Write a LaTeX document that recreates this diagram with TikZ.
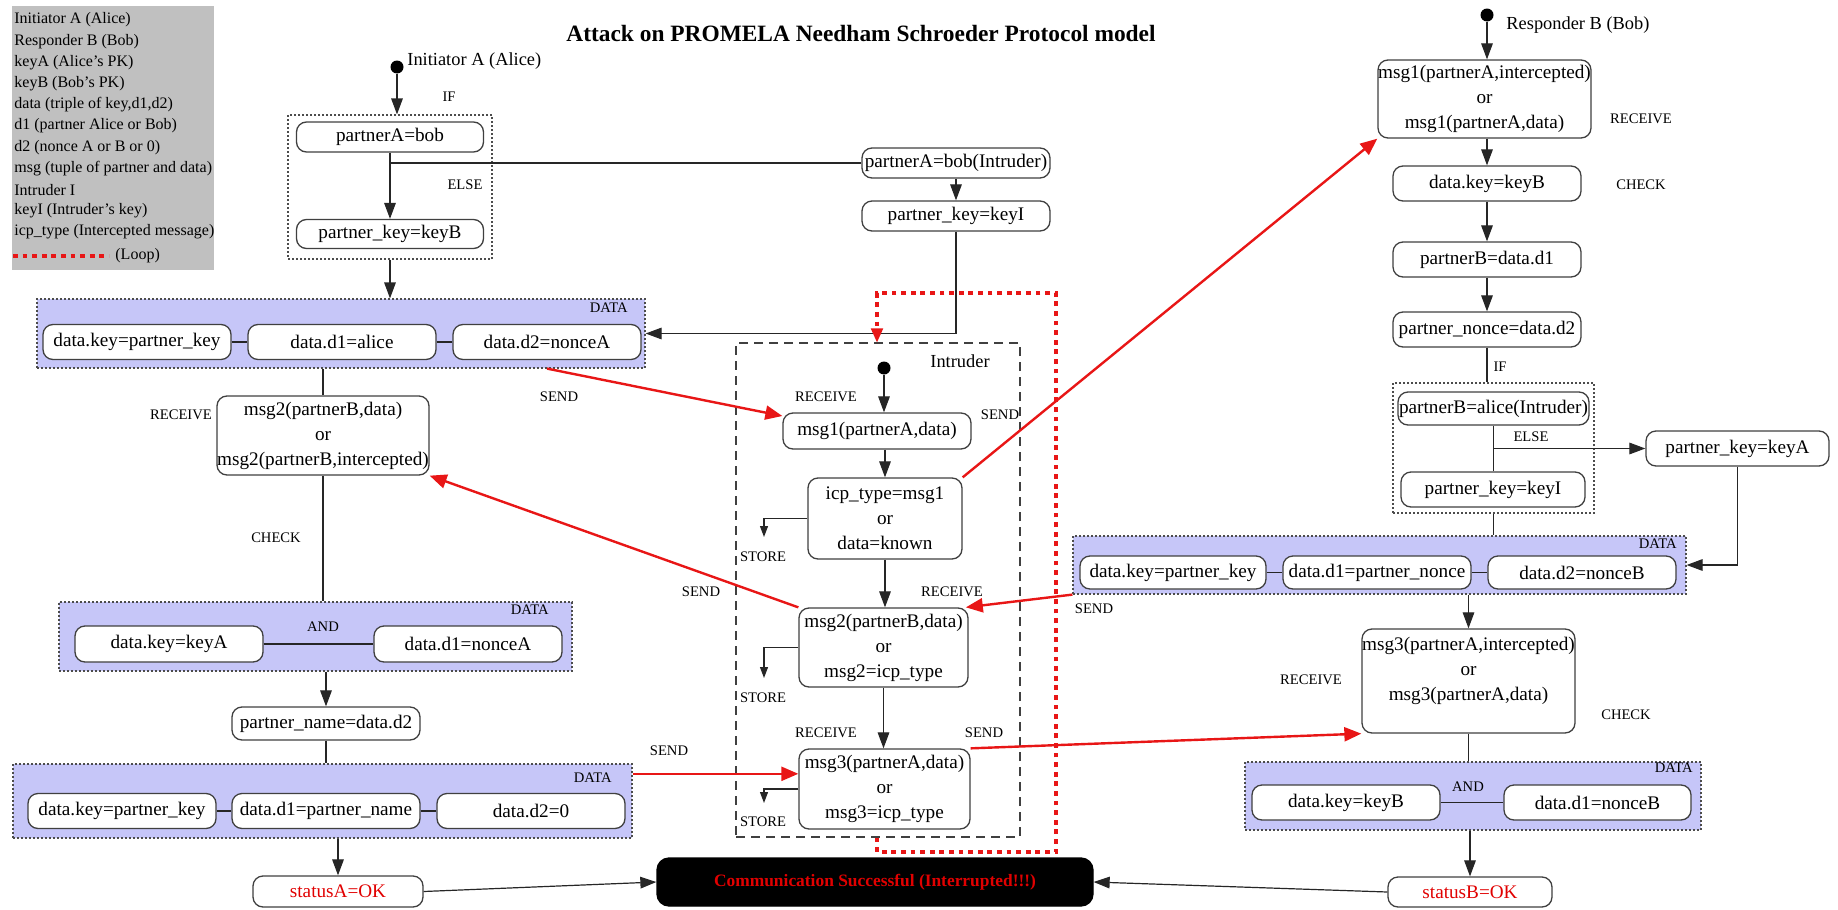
\documentclass[tikz,border=0pt]{standalone}
\usepackage{fontspec}
\setmainfont{Liberation Serif}
\usetikzlibrary{arrows.meta}
\definecolor{lav}{RGB}{198,198,248}
\definecolor{leggray}{RGB}{192,192,192}
\definecolor{redln}{RGB}{232,22,22}
\definecolor{redtx}{RGB}{225,0,0}
\newcommand\boxfont{\fontsize{9.6}{12.5}\selectfont}
\newcommand\tagfont{\fontsize{7.3}{8.6}\selectfont}
\newcommand\legfont{\fontsize{8}{10.6}\selectfont}
\newcommand\headfont{\fontsize{9.2}{11}\selectfont}

\begin{document}
\begin{tikzpicture}[x=0.5pt,y=-0.5pt,
  st/.style={draw=black!75,line width=0.65pt,rounded corners=5pt,fill=white,inner sep=0pt,align=center,font=\boxfont},
  grp/.style={draw=black!70,line width=0.6pt,dash pattern=on 1pt off 1pt,inner sep=0pt},
  datagrp/.style={grp,fill=lav},
  tag/.style={font=\tagfont,inner sep=0pt},
  ln/.style={draw=black!85,line width=0.6pt},
  arr/.style={ln,-{Triangle[length=8pt,width=5.8pt]}},
  smallarr/.style={ln,-{Triangle[length=5.5pt,width=4pt]}},
  redarr/.style={draw=redln,line width=1.2pt,-{Triangle[length=8.5pt,width=7pt]}},
  loopline/.style={draw=redln,line width=2.2pt,dash pattern=on 2.4pt off 2.4pt},
  startdot/.style={circle,fill=black,inner sep=0pt,minimum size=6.5pt},
]
\useasboundingbox (0,0) rectangle (1838,910);

% ---------- legend ----------
\node[fill=leggray,minimum width=101pt,minimum height=132pt,inner sep=0pt] (legend) at (113,138) {};
\foreach \t [count=\i from 0] in {Initiator A (Alice),Responder B (Bob),keyA (Alice's PK),keyB (Bob's PK),
  {data (triple of key,d1,d2)},d1 (partner Alice or Bob),d2 (nonce A or B or 0),msg (tuple of partner and data),
  Intruder I,keyI (Intruder's key),icp\_type (Intercepted message)}
  \node[font=\legfont,inner sep=0pt,anchor=west] (leg\i) at (14,20+21.2*\i) {\t};
\coordinate (legA) at (13,256);
\coordinate (legB) at (109,256);
\draw[loopline] (legA) -- (legB);
\node[font=\legfont,inner sep=0pt,anchor=west] (legloop) at (115,256) {(Loop)};

% ---------- title ----------
\node[font=\fontsize{11.7}{14}\selectfont\bfseries,inner sep=0pt] (title) at (861,33)
  {Attack on PROMELA Needham Schroeder Protocol model};

% ---------- initiator A ----------
\node[startdot] (aDot) at (397,67) {};
\node[font=\headfont,inner sep=0pt,anchor=west] (aLab) at (407,61) {Initiator A (Alice)};
\node[grp,minimum width=102pt,minimum height=72pt] (ifA) at (390,187) {};
\node[st,minimum width=93.5pt,minimum height=15pt] (aPab) at (390,137) {partnerA=bob};
\node[st,minimum width=93.5pt,minimum height=14.5pt] (aPkB) at (390,234) {partner\_key=keyB};
\node[tag] (tIfA) at (449,97) {IF};
\node[tag] (tElseA) at (465,185) {ELSE};

\node[st,minimum width=94pt,minimum height=15pt] (iPab) at (956,163) {partnerA=bob(Intruder)};
\node[st,minimum width=94pt,minimum height=15pt] (iPkI) at (956,216) {partner\_key=keyI};

\node[datagrp,minimum width=304pt,minimum height=34.5pt] (dataA1) at (341,333.5) {};
\node[tag,anchor=east] (tDataA1) at (628,308) {DATA};
\node[st,minimum width=94pt,minimum height=17.5pt] (a1k) at (137,342) {data.key=partner\_key};
\node[st,minimum width=94pt,minimum height=17.5pt] (a1d1) at (342,342) {data.d1=alice};
\node[st,minimum width=94pt,minimum height=17.5pt] (a1d2) at (547,342) {data.d2=nonceA};

\node[st,minimum width=106pt,minimum height=39.5pt] (msg2A) at (323,435.5)
  {msg2(partnerB,data)\\or\\msg2(partnerB,intercepted)};
\node[tag] (tRecA) at (181,415) {RECEIVE};
\node[tag] (tSendA1) at (559,397) {SEND};
\node[tag] (tCheckA) at (276,538) {CHECK};

\node[datagrp,minimum width=256.5pt,minimum height=34.5pt] (andA) at (315.5,636.5) {};
\node[tag,anchor=east] (tDataA2) at (549,610) {DATA};
\node[tag] (tAndA) at (323,627) {AND};
\node[st,minimum width=94pt,minimum height=18pt] (a2k) at (169,644) {data.key=keyA};
\node[st,minimum width=94pt,minimum height=18pt] (a2d) at (468,644) {data.d1=nonceA};

\node[st,minimum width=94pt,minimum height=16.5pt] (pname) at (326,723.5) {partner\_name=data.d2};

\node[datagrp,minimum width=309.5pt,minimum height=37pt] (dataA2) at (322.5,801) {};
\node[tag,anchor=east] (tDataA3) at (612,778) {DATA};
\node[st,minimum width=94pt,minimum height=17.5pt] (a3k) at (122,811) {data.key=partner\_key};
\node[st,minimum width=94pt,minimum height=17.5pt] (a3d1) at (326,811) {data.d1=partner\_name};
\node[st,minimum width=94pt,minimum height=17.5pt] (a3d2) at (531,811) {data.d2=0};
\node[tag] (tSendA2) at (669,751) {SEND};

\node[st,minimum width=85pt,minimum height=15.5pt,text=redtx] (statusA) at (338,891.5) {statusA=OK};

\node[st,fill=black,draw=black,rounded corners=6pt,minimum width=218pt,minimum height=24pt,
  font=\fontsize{8.7}{10}\selectfont\bfseries,text=redtx] (comm) at (875,882)
  {Communication Successful (Interrupted!!!)};

% ---------- intruder ----------
\node[draw=black!75,line width=0.6pt,dash pattern=on 4.5pt off 3pt,minimum width=142pt,minimum height=247pt,inner sep=0pt] (ibox) at (878,590) {};
\node[font=\headfont,inner sep=0pt] (iLab) at (960,361) {Intruder};
\node[startdot] (iDot) at (884,368) {};
\node[st,minimum width=94pt,minimum height=18pt] (im1) at (877,431) {msg1(partnerA,data)};
\node[st,minimum width=77pt,minimum height=40.5pt] (icp) at (885,518.5) {icp\_type=msg1\\or\\data=known};
\node[st,minimum width=84.5pt,minimum height=39.5pt] (im2) at (883.5,647.5) {msg2(partnerB,data)\\or\\msg2=icp\_type};
\node[st,minimum width=85.5pt,minimum height=40pt] (im3) at (884.5,789) {msg3(partnerA,data)\\or\\msg3=icp\_type};
\node[tag] (tRecI1) at (826,397) {RECEIVE};
\node[tag] (tSendI1) at (1000,415) {SEND};
\node[tag] (tSendI2) at (701,592) {SEND};
\node[tag] (tRecI2) at (952,592) {RECEIVE};
\node[tag] (tRecI3) at (826,733) {RECEIVE};
\node[tag] (tSendI3) at (984,733) {SEND};
\coordinate (store1) at (764,537);
\coordinate (store2) at (764,678);
\coordinate (store3) at (764,803);
\node[tag] (tStore1) at (763,557) {STORE};
\node[tag] (tStore2) at (763,698) {STORE};
\node[tag] (tStore3) at (763,822) {STORE};

% ---------- responder B ----------
\node[startdot] (bDot) at (1487,15) {};
\node[font=\headfont,inner sep=0pt,anchor=west] (bLab) at (1506,25) {Responder B (Bob)};
\node[st,minimum width=106.5pt,minimum height=39pt] (bm1) at (1484.5,99)
  {msg1(partnerA,intercepted)\\or\\msg1(partnerA,data)};
\node[tag] (tRecB1) at (1641,119) {RECEIVE};
\node[st,minimum width=94pt,minimum height=17.5pt] (bkB) at (1487,183.5) {data.key=keyB};
\node[tag] (tCheckB1) at (1641,185) {CHECK};
\node[st,minimum width=94pt,minimum height=17.5pt] (bpB) at (1487,259.5) {partnerB=data.d1};
\node[st,minimum width=94pt,minimum height=17.5pt] (bpn) at (1487,329.5) {partner\_nonce=data.d2};
\node[tag] (tIfB) at (1500,367) {IF};
\node[grp,minimum width=100.5pt,minimum height=65pt] (ifB) at (1493.5,448) {};
\node[st,minimum width=95.5pt,minimum height=16.5pt] (bpa) at (1493.5,408.5) {partnerB=alice(Intruder)};
\node[st,minimum width=92pt,minimum height=17.5pt] (bkI) at (1493,489.5) {partner\_key=keyI};
\node[tag] (tElseB) at (1531,437) {ELSE};
\node[st,minimum width=91.5pt,minimum height=17.5pt] (bkA) at (1737.5,448.5) {partner\_key=keyA};

\node[datagrp,minimum width=306.5pt,minimum height=29pt] (dataB1) at (1379.5,565) {};
\node[tag,anchor=east] (tDataB1) at (1677,544) {DATA};
\node[st,minimum width=93pt,minimum height=16.5pt] (b1k) at (1173,572.5) {data.key=partner\_key};
\node[st,minimum width=94pt,minimum height=16.5pt] (b1d1) at (1377,572.5) {data.d1=partner\_nonce};
\node[st,minimum width=94pt,minimum height=16.5pt] (b1d2) at (1582,572.5) {data.d2=nonceB};
\node[tag] (tSendB) at (1094,609) {SEND};

\node[st,minimum width=106.5pt,minimum height=52pt] (bm3) at (1468.5,681) {};
\node[font=\boxfont,align=center,inner sep=0pt] (bm3text) at (1468.5,671)
  {msg3(partnerA,intercepted)\\or\\msg3(partnerA,data)};
\node[tag] (tRecB3) at (1311,680) {RECEIVE};
\node[tag] (tCheckB3) at (1626,715) {CHECK};

\node[datagrp,minimum width=228pt,minimum height=34pt] (andB) at (1473,796) {};
\node[tag,anchor=east] (tDataB2) at (1693,768) {DATA};
\node[tag] (tAndB) at (1468,787) {AND};
\node[st,minimum width=94pt,minimum height=17.5pt] (b2k) at (1346,802.5) {data.key=keyB};
\node[st,minimum width=93.5pt,minimum height=17.5pt] (b2d) at (1597.5,802.5) {data.d1=nonceB};

\node[st,minimum width=82pt,minimum height=15pt,text=redtx] (statusB) at (1470,892) {statusB=OK};

% ---------- black connectors, A side ----------
\draw[arr] (aDot) -- (aDot |- ifA.north);
\draw[arr] (aPab.south) -- (aPkB.north);
\draw[ln] (aPab.south |- iPab.west) -- (iPab.west);
\draw[arr] (ifA.south) -- (ifA.south |- dataA1.north);
\draw[arr] (iPab.south) -- (iPkI.north);
\draw[arr] (iPkI.south) |- (dataA1.east);
\draw[ln] (a1k.east) -- (a1d1.west);
\draw[ln] (a1d1.east) -- (a1d2.west);
\draw[ln] (msg2A.north |- dataA1.south) -- (msg2A.north);
\draw[ln] (msg2A.south) -- (msg2A.south |- andA.north);
\draw[ln] (a2k.east) -- (a2d.west);
\draw[arr] (pname.north |- andA.south) -- (pname.north);
\draw[ln] (pname.south) -- (pname.south |- dataA2.north);
\draw[ln] (a3k.east) -- (a3d1.west);
\draw[ln] (a3d1.east) -- (a3d2.west);
\draw[arr] (statusA.north |- dataA2.south) -- (statusA.north);
\draw[arr] (statusA.east) -- (comm.west);

% ---------- black connectors, intruder ----------
\draw[arr] (iDot) -- (im1.north -| iDot);
\draw[arr] (im1.south -| icp.north) -- (icp.north);
\draw[arr] (icp.south) -- (icp.south |- im2.north);
\draw[arr] (im2.south) -- (im2.south |- im3.north);
\draw[smallarr] (icp.west) -| (store1);
\draw[smallarr] (im2.west) -| (store2);
\draw[smallarr] (im3.west) -| (store3);

% ---------- black connectors, B side ----------
\draw[arr] (bDot) -- (bDot |- bm1.north);
\draw[arr] (bm1.south -| bkB.north) -- (bkB.north);
\draw[arr] (bkB.south) -- (bpB.north);
\draw[arr] (bpB.south) -- (bpn.north);
\draw[ln] (bpn.south) -- (bpn.south |- ifB.north);
\draw[ln] (bpa.south) -- (bkI.north -| bpa.south);
\draw[arr] (bpa.south |- bkA.west) -- (bkA.west);
\draw[arr] (bkA.south) |- (dataB1.east);
\draw[ln] (ifB.south) -- (ifB.south |- dataB1.north);
\draw[ln] (b1k.east) -- (b1d1.west);
\draw[ln] (b1d1.east) -- (b1d2.west);
\draw[arr] (bm3.north |- dataB1.south) -- (bm3.north);
\draw[ln] (bm3.south) -- (bm3.south |- andB.north);
\draw[ln] (b2k.east) -- (b2d.west);
\draw[arr] (statusB.north |- andB.south) -- (statusB.north);
\draw[arr] (statusB.west) -- (comm.east);

% ---------- intruder loop ----------
\coordinate (lpBL) at (877,852);
\coordinate (lpBR) at (1056,852);
\coordinate (lpTR) at (1056,293);
\coordinate (lpTL) at (877,293);
\draw[loopline] (ibox.south -| lpBL) -- (lpBL) -- (lpBR) -- (lpTR) -- (lpTL) -- ([yshift=6pt]ibox.north -| lpTL);
\draw[draw=redln,line width=1pt,-{Triangle[length=7pt,width=6pt]}] ([yshift=6.5pt]ibox.north -| lpTL) -- (ibox.north -| lpTL);

% ---------- message flow ----------
\draw[redarr] (dataA1.south -| a1d2.south) -- (im1.171);
\draw[redarr] (icp.north east) -- (bm1.south west);
\draw[redarr] (im2.north west) -- (msg2A.south east);
\draw[redarr] (dataB1.south west) -- (im2.26);
\draw[redarr] (dataA2.east |- im3.170) -- (im3.170);
\draw[redarr] (im3.north east) -- (bm3.south west);
\end{tikzpicture}
\end{document}
